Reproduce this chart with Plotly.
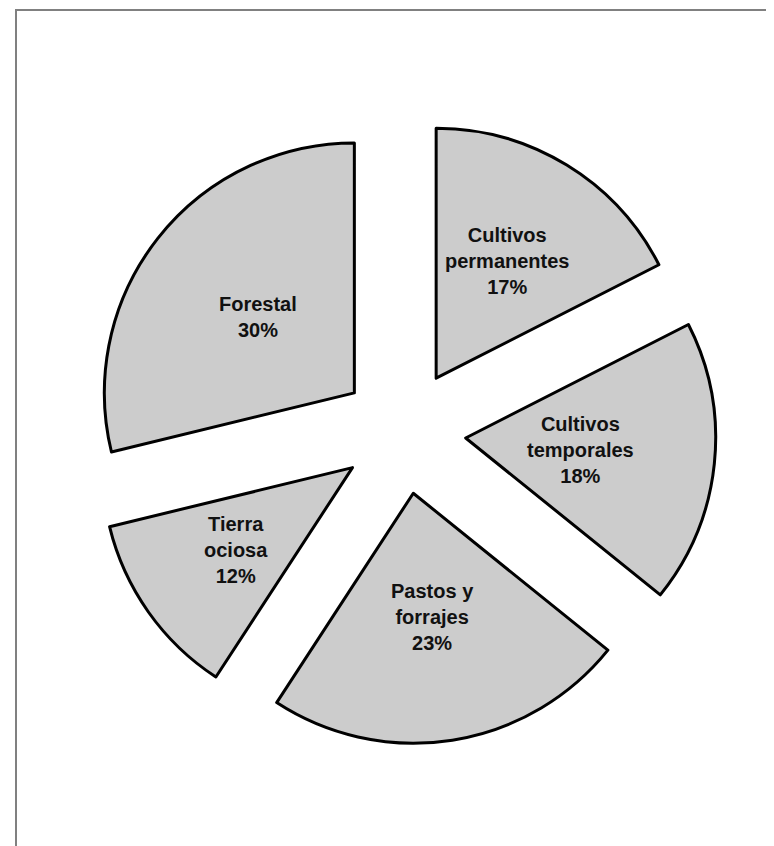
import math
import plotly.graph_objects as go

labels = ["Cultivos permanentes", "Cultivos temporales", "Pastos y forrajes", "Tierra ociosa", "Forestal"]
text_labels = ["Cultivos<br>permanentes<br>17%", "Cultivos<br>temporales<br>18%", "Pastos y<br>forrajes<br>23%", "Tierra<br>ociosa<br>12%", "Forestal<br>30%"]
values = [17.5, 18.3, 23.4, 12.0, 28.8]

# style settings
pull = 0.25
label_radius = [0.80, 0.71, 0.75, 0.82, 0.74]  # label distance from pie centre, in radii

fig = go.Figure(go.Pie(
    labels=labels,
    values=values,
    textinfo="none",
    pull=[pull] * len(values),
    sort=False,
    direction="clockwise",
    rotation=0,
    marker=dict(colors=["#cccccc"] * len(values), line=dict(color="#000000", width=3)),
    hoverinfo="label+percent",
))

# labels placed along each slice bisector (pie domain is square in pixels)
r_paper = 0.5 / (1 + pull)
total = sum(values)
annotations = []
cum = 0.0
for txt, v, lr in zip(text_labels, values, label_radius):
    theta = math.radians((cum + v / 2) / total * 360)
    cum += v
    x = 0.5 + lr * r_paper * math.sin(theta)
    y = 0.5 + lr * r_paper * math.cos(theta)
    annotations.append(dict(
        x=x, y=y, xref="paper", yref="paper", text=txt, showarrow=False,
        xanchor="center", yanchor="middle", align="center",
        font=dict(family="Liberation Sans, Arial, sans-serif", size=20, color="#111111", weight="bold"),
    ))

fig.update_layout(
    width=774, height=846,
    margin=dict(l=83, r=66, t=111, b=110),
    paper_bgcolor="#ffffff",
    plot_bgcolor="#ffffff",
    showlegend=False,
    annotations=annotations,
    shapes=[dict(type="rect", xref="paper", yref="paper",
                 x0=-0.12, x1=1.3, y0=-0.3, y1=1.1744,
                 line=dict(color="#808080", width=2), fillcolor="rgba(0,0,0,0)", layer="below")],
)

fig.write_html("out.html")
